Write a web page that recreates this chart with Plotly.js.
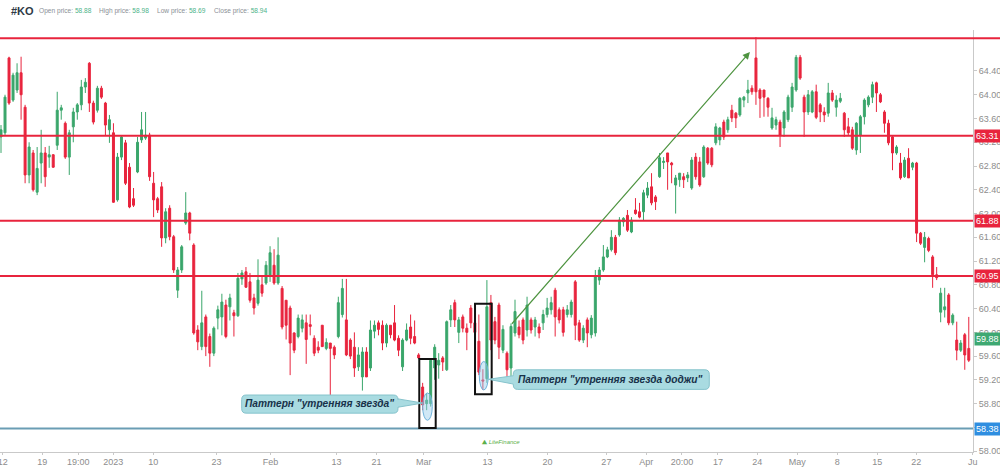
<!DOCTYPE html>
<html>
<head>
<meta charset="utf-8">
<script src="https://cdn.plot.ly/plotly-3.0.1.min.js"></script>
<style>
html,body{margin:0;padding:0;background:#fff;}
#chart{width:1000px;height:467px;}
</style>
</head>
<body>
<div id="chart"></div>
<script>
// ---- candle data ----
const open = [63.29,63.36,64.62,63.91,64.08,64.37,63.79,62.65,63.02,62.36,62.85,63.02,62.95,62.99,63.15,63.74,63.52,62.95,63.46,63.71,63.83,64.13,64.53,63.86,63.74,64.11,63.86,63.41,63.36,62.23,62.95,63.19,62.78,62.25,62.70,63.24,63.27,63.32,62.51,62.25,62.45,61.59,62.09,61.61,60.71,61.05,61.84,62.01,61.47,60.04,
59.76,60.26,59.93,59.65,60.24,60.26,60.46,60.43,60.33,60.28,60.90,61.02,60.85,60.58,60.49,60.80,60.83,60.95,61.13,60.83,60.74,60.54,60.41,59.99,59.93,60.07,60.16,60.13,59.90,59.75,60.12,59.73,59.82,59.75,59.93,60.30,60.21,59.87,59.75,59.42,59.25,59.67,59.40,60.02,60.16,60.12,59.82,60.12,60.16,59.90,
59.42,59.87,60.09,59.93,59.62,59.08,58.80,58.80,59.40,59.45,59.57,59.37,60.21,60.50,60.00,60.26,60.07,60.41,60.16,59.85,59.20,59.22,60.50,60.18,60.46,59.70,59.65,59.40,59.99,60.09,60.21,60.04,60.21,60.09,60.09,60.16,60.30,60.38,60.71,60.38,60.38,60.30,60.30,60.85,60.16,59.87,60.21,59.96,59.99,60.88,
61.05,61.27,61.39,61.60,61.64,61.86,61.97,61.69,62.06,62.03,62.03,62.31,62.45,62.28,62.62,62.86,63.02,62.85,62.48,62.57,62.62,62.60,62.43,62.95,62.87,62.62,63.10,63.10,63.19,63.24,63.54,63.41,63.74,63.69,63.66,63.91,64.03,64.11,64.62,64.08,64.08,63.94,63.44,63.49,63.54,63.44,63.58,63.79,64.08,64.63,
63.96,63.71,63.71,64.05,63.83,63.71,63.69,64.03,63.79,63.89,63.69,63.46,63.41,63.07,63.32,63.63,63.83,63.96,64.20,64.00,63.71,63.52,63.29,63.02,62.85,62.62,62.93,62.78,62.85,61.67,61.43,61.58,61.27,60.97,60.34,60.38,60.63,60.16,59.87,59.70,59.96,59.73];
const high = [63.49,64.00,64.64,64.37,64.53,64.64,63.83,63.20,63.07,63.12,63.41,63.12,63.14,63.00,64.05,63.83,63.55,63.41,63.78,63.86,64.25,64.28,64.55,63.90,64.15,64.15,63.88,63.66,63.52,63.02,63.32,63.24,62.85,62.43,63.29,63.71,63.71,63.36,62.70,62.28,62.53,62.09,62.14,61.64,61.10,61.47,62.36,62.03,61.50,60.12,
60.70,60.30,59.98,60.10,60.45,60.65,60.55,60.65,60.38,61.00,61.05,61.10,61.00,60.65,61.23,60.95,61.20,61.45,61.40,61.60,60.78,60.54,60.45,60.00,60.30,60.30,60.30,60.30,59.95,59.85,60.12,59.90,59.82,59.78,60.60,60.90,60.90,59.90,60.00,59.75,59.75,59.75,60.20,60.20,60.20,60.20,60.15,60.12,60.46,59.95,
59.90,60.15,60.30,60.20,59.65,59.15,58.98,59.55,59.80,59.65,59.60,60.20,60.46,60.55,60.26,60.30,60.15,60.46,60.20,60.30,59.38,60.88,60.63,60.26,60.50,60.12,59.68,60.15,60.55,60.20,60.25,60.60,60.25,60.26,60.15,60.38,60.58,60.60,60.75,60.42,60.43,60.46,60.55,60.88,60.21,60.12,60.25,60.29,61.05,61.10,
61.47,61.44,61.72,61.64,61.94,61.94,62.06,61.94,62.26,62.18,62.40,62.53,62.68,62.31,63.02,62.95,63.02,62.87,62.65,62.68,62.68,62.70,62.95,63.02,62.95,63.15,63.12,63.12,63.52,63.46,63.58,63.63,63.83,63.71,63.96,63.98,64.25,64.16,64.97,64.11,64.08,63.96,63.78,63.63,63.58,63.74,64.00,64.20,64.67,64.67,
64.00,64.08,64.08,64.17,63.86,63.79,64.20,64.08,63.99,64.03,63.71,63.61,63.46,63.54,63.66,63.94,63.99,64.22,64.22,64.03,63.74,63.58,63.32,63.15,63.02,62.95,63.10,62.87,62.87,61.69,61.69,61.61,61.30,61.10,60.75,60.75,60.66,60.32,60.18,59.87,59.99,60.26];
const low = [63.02,63.32,63.83,63.88,64.03,63.58,62.51,62.51,62.37,62.31,62.51,62.45,62.77,62.77,63.07,63.58,62.92,62.65,63.20,63.58,63.74,64.03,63.71,63.50,63.70,63.93,63.32,63.19,62.18,62.20,62.90,62.48,62.09,62.11,62.68,63.19,63.24,62.55,61.94,62.01,61.44,61.50,61.55,61.00,60.58,61.00,61.81,61.55,59.96,59.70,
59.70,59.60,59.42,59.60,60.05,59.95,59.90,60.20,59.93,60.26,60.80,60.75,60.50,60.30,60.45,60.60,60.80,60.85,60.80,60.80,60.05,59.88,59.28,59.65,59.90,60.00,59.47,59.95,59.60,59.65,59.80,59.70,58.92,59.55,59.90,60.25,59.60,59.55,59.25,59.35,59.02,59.25,59.35,59.90,59.95,59.70,59.75,59.90,59.85,59.60,
59.35,59.85,59.80,59.80,59.55,58.69,58.69,58.75,59.20,59.22,59.35,59.35,60.09,60.09,59.82,60.00,59.70,60.07,59.95,59.28,59.03,59.15,59.70,59.80,59.55,59.65,59.25,59.20,59.93,59.90,59.80,59.93,59.98,59.93,59.90,60.04,60.25,60.30,59.93,60.15,59.93,60.25,60.25,59.87,59.84,59.82,59.75,59.90,59.93,60.80,
61.02,61.25,61.36,61.30,61.61,61.78,61.69,61.67,61.98,61.92,61.89,62.26,62.14,62.06,62.60,62.75,62.40,62.51,62.00,62.45,62.43,62.53,62.40,62.57,62.45,62.60,62.82,62.78,63.15,63.15,63.24,63.36,63.54,63.44,63.63,63.79,63.86,64.00,63.83,63.61,63.63,63.63,63.41,63.41,63.12,63.29,63.54,63.71,64.05,64.25,
63.29,63.66,63.69,63.59,63.54,63.54,63.63,63.88,63.63,63.86,63.29,63.32,63.07,62.99,63.02,63.50,63.79,63.86,63.71,63.86,63.36,63.15,62.73,62.99,62.57,62.60,62.60,62.73,61.52,61.47,61.18,61.35,60.75,60.88,60.17,60.25,60.12,60.12,59.53,59.67,59.37,59.50];
const close = [63.41,63.96,63.86,64.33,64.37,64.00,62.65,63.12,62.40,62.76,63.02,62.62,62.99,62.78,63.74,63.78,62.95,63.36,63.71,63.83,64.13,64.21,63.86,63.54,64.11,63.96,63.49,63.58,62.19,62.95,63.29,62.51,62.11,62.14,63.20,63.41,63.32,62.62,62.23,62.06,61.59,62.03,61.61,61.05,61.05,61.44,62.01,61.67,59.99,59.84,
60.16,59.76,59.65,60.07,60.38,60.51,59.93,60.58,60.28,60.91,61.00,60.76,60.54,60.41,60.88,60.66,61.13,61.34,60.83,61.30,60.09,60.12,59.82,59.70,60.24,60.21,59.88,60.10,59.65,59.70,59.76,59.83,59.73,59.62,60.50,60.74,59.62,59.60,59.40,59.62,59.67,59.25,60.04,60.12,60.05,59.82,60.12,59.96,59.87,59.70,
59.87,60.04,59.90,59.82,59.57,58.78,58.86,59.53,59.75,59.53,59.50,60.18,60.38,60.21,60.21,60.07,60.00,60.16,60.00,59.33,59.18,60.43,59.87,59.87,59.75,60.05,59.37,60.10,60.35,59.96,59.87,60.46,60.04,60.21,59.99,60.30,60.41,60.50,60.26,60.21,60.00,60.38,60.51,60.12,59.87,60.07,59.99,60.24,60.95,61.05,
61.27,61.39,61.60,61.34,61.89,61.92,61.72,61.89,62.00,61.94,62.35,62.43,62.18,62.20,62.94,62.88,62.87,62.82,62.60,62.68,62.57,62.65,62.90,62.62,62.48,63.12,62.85,62.82,63.46,63.44,63.29,63.58,63.61,63.61,63.94,63.96,64.08,64.05,64.05,63.94,63.96,63.79,63.61,63.58,63.32,63.71,63.96,64.13,64.63,64.28,
63.71,64.00,64.05,63.62,63.71,63.66,64.03,63.91,63.91,63.94,63.41,63.36,63.10,63.52,63.63,63.91,63.96,64.17,64.03,63.88,63.52,63.19,63.02,63.12,62.60,62.90,62.60,62.85,61.67,61.50,61.60,61.38,60.97,60.92,60.66,60.43,60.16,60.29,59.70,59.82,59.62,59.53];

// x-axis labels and the candle positions they sit at
const tickPos = [1.42,11.28,20.24,28.95,38.9,54.68,68.12,84.55,94.5,106.3,122.13,137.06,151.75,161.7,170.56,179.52,189.33,199.28,209.24,219.2,228.9,243.0];
const tickText = ['12','19','19:00','2023','10','23','Feb','13','21','Mar','13','20','27','Apr','20:00','17','24','May','8','15','22','Ju'];

// y-axis ticks
const yTicks = [58.0,58.4,58.8,59.2,59.6,60.0,60.4,60.8,61.2,61.6,62.0,62.4,62.8,63.2,63.6,64.0,64.4];

// horizontal levels
const resistanceLevels = [64.95, 63.31, 61.88, 60.95];
const resistanceLabels = ['', '63.31', '61.88', '60.95'];
const supportLevel = 58.38;
const lastPrice = 59.88;

// header
const ticker = '#KO';
const headerLabels = ['Open price:', 'High price:', 'Low price:', 'Close price:'];
const headerValues = ['58.88', '58.98', '58.69', '58.94'];

// annotation texts
const callout1Text = 'Паттерн "утренняя звезда"';
const callout2Text = 'Паттерн "утренняя звезда доджи"';
const logoText = 'LiteFinance';

const idx = open.map((_, i) => i + 1);

const RED = '#e8243d';
const GREEN = '#3aa66b';
const FONT = 'Liberation Sans, Arial, sans-serif';

const trace = {
  type: 'candlestick',
  x: idx, open: open, high: high, low: low, close: close,
  increasing: {line: {color: GREEN, width: 1}, fillcolor: GREEN},
  decreasing: {line: {color: RED, width: 1}, fillcolor: RED},
  whiskerwidth: 0,
  hoverinfo: 'skip',
  showlegend: false
};

const shapes = [];
const annotations = [];

// resistance lines
resistanceLevels.forEach((lv, i) => {
  shapes.push({type: 'line', xref: 'paper', yref: 'y', x0: 0, x1: i === 0 ? 1.03 : 1,
    y0: lv, y1: lv, line: {color: RED, width: 2}, layer: 'above'});
  if (resistanceLabels[i]) {
    annotations.push({xref: 'paper', yref: 'y', x: 1, y: lv, xanchor: 'left', yanchor: 'middle',
      xshift: 1, text: resistanceLabels[i], showarrow: false, bgcolor: RED, borderpad: 1,
      font: {color: '#fff', size: 9, family: FONT}});
  }
});
// support line
shapes.push({type: 'line', xref: 'paper', yref: 'y', x0: 0, x1: 1, y0: supportLevel, y1: supportLevel,
  line: {color: '#6a9db4', width: 2}, layer: 'above'});
annotations.push({xref: 'paper', yref: 'y', x: 1, y: supportLevel, xanchor: 'left', yanchor: 'middle',
  xshift: 1, text: supportLevel.toFixed(2), showarrow: false, bgcolor: '#2f8ee0', borderpad: 1,
  font: {color: '#fff', size: 9, family: FONT}});
annotations.push({xref: 'paper', yref: 'y', x: 1, y: lastPrice, xanchor: 'left', yanchor: 'middle',
  xshift: 1, text: lastPrice.toFixed(2), showarrow: false, bgcolor: '#3ea872', borderpad: 1,
  font: {color: '#fff', size: 9, family: FONT}});

// pattern boxes
shapes.push({type: 'rect', xref: 'x', yref: 'y', x0: 105.16, x1: 109.25, y0: 58.39, y1: 59.55,
  line: {color: '#111', width: 2}, layer: 'above'});
shapes.push({type: 'rect', xref: 'x', yref: 'y', x0: 119.04, x1: 123.19, y0: 58.96, y1: 60.48,
  line: {color: '#111', width: 2}, layer: 'above'});
// ellipses
shapes.push({type: 'circle', xref: 'x', yref: 'y', x0: 106.0, x1: 108.4, y0: 58.52, y1: 58.98,
  fillcolor: 'rgba(150,205,235,0.45)', line: {color: '#6fb3dc', width: 1}, layer: 'above'});
shapes.push({type: 'circle', xref: 'x', yref: 'y', x0: 120.1, x1: 122.35, y0: 59.03, y1: 59.51,
  fillcolor: 'rgba(150,205,235,0.45)', line: {color: '#6fb3dc', width: 1}, layer: 'above'});

// callout bubble paths
function bubble(x0, x1, yb, yt, side, tipX, tipY, baseB, baseT) {
  const rx = 1.1, ry = 0.075;
  let p = `M ${x0 + rx} ${yt} L ${x1 - rx} ${yt} Q ${x1} ${yt} ${x1} ${yt - ry}`;
  if (side === 'right') p += ` L ${x1} ${baseT} L ${tipX} ${tipY} L ${x1} ${baseB}`;
  p += ` L ${x1} ${yb + ry} Q ${x1} ${yb} ${x1 - rx} ${yb} L ${x0 + rx} ${yb} Q ${x0} ${yb} ${x0} ${yb + ry}`;
  if (side === 'left') p += ` L ${x0} ${baseB} L ${tipX} ${tipY} L ${x0} ${baseT}`;
  p += ` L ${x0} ${yt - ry} Q ${x0} ${yt} ${x0 + rx} ${yt} Z`;
  return p;
}
shapes.push({type: 'path', xref: 'x', yref: 'y',
  path: bubble(60.94, 99.86, 58.64, 58.945, 'right', 106.0, 58.81, 58.74, 58.88),
  fillcolor: '#a9dbe1', line: {color: '#86c3cc', width: 1}, layer: 'above'});
shapes.push({type: 'path', xref: 'x', yref: 'y',
  path: bubble(128.57, 177.38, 59.04, 59.37, 'left', 122.35, 59.21, 59.13, 59.27),
  fillcolor: '#a9dbe1', line: {color: '#86c3cc', width: 1}, layer: 'above'});

annotations.push({xref: 'x', yref: 'y', x: 80.4, y: 58.795, text: '<b><i>' + callout1Text + '</i></b>',
  showarrow: false, font: {size: 10.2, color: '#18324a', family: FONT}});
annotations.push({xref: 'x', yref: 'y', x: 152.9, y: 59.205, text: '<b><i>' + callout2Text + '</i></b>',
  showarrow: false, font: {size: 10.2, color: '#18324a', family: FONT}});

// trend arrow
annotations.push({xref: 'x', yref: 'y', axref: 'x', ayref: 'y', x: 187.5, y: 64.72, ax: 127.9, ay: 60.12,
  text: '', showarrow: true, arrowhead: 2, arrowsize: 1.2, arrowwidth: 1.2, arrowcolor: '#4e9440'});

// logo
annotations.push({xref: 'x', yref: 'y', x: 125.3, y: 58.15, text: '<b>⛰</b> <i>' + logoText + '</i>', showarrow: false,
  font: {size: 6, color: '#5bb04a', family: FONT}});

// header
const W = 973, H = 422;
annotations.push({xref: 'paper', yref: 'paper', x: 9 / W, y: (452 - 11) / H, xanchor: 'left', yanchor: 'middle',
  text: '<b>' + ticker + '</b>', showarrow: false, font: {size: 11, color: '#2e3a46', family: FONT}});
const headerX = [37, 97, 155, 212];
headerLabels.forEach((lab, i) => {
  annotations.push({xref: 'paper', yref: 'paper', x: headerX[i] / W, y: (452 - 11) / H, xanchor: 'left', yanchor: 'middle',
    text: lab + ' <span style="color:#4db38a">' + headerValues[i] + '</span>', showarrow: false,
    font: {size: 6.6, color: '#8a8f96', family: FONT}});
});

const layout = {
  width: 1000, height: 467,
  margin: {l: 0, r: 27, t: 30, b: 15, pad: 0},
  paper_bgcolor: '#fff', plot_bgcolor: '#fff',
  showlegend: false,
  xaxis: {
    type: 'linear', range: [0.75, 243.05], rangeslider: {visible: false},
    tickmode: 'array', tickvals: tickPos, ticktext: tickText,
    showgrid: false, zeroline: false, showline: true, linecolor: '#c9c9c9', linewidth: 1,
    ticks: 'outside', ticklen: 2, tickcolor: '#c9c9c9', ticklabelstandoff: -1,
    ticklabeloverflow: 'allow',
    tickfont: {size: 9, color: '#8d8d8d', family: FONT}, fixedrange: true
  },
  yaxis: {
    side: 'right', range: [57.986, 65.09],
    tickmode: 'array', tickvals: yTicks, ticktext: yTicks.map(v => v.toFixed(2)),
    showgrid: false, zeroline: false, showline: true, linecolor: '#c9c9c9', linewidth: 1,
    ticks: 'outside', ticklen: 3, tickcolor: '#c9c9c9',
    tickfont: {size: 9, color: '#8d8d8d', family: FONT}, fixedrange: true
  },
  shapes: shapes,
  annotations: annotations
};

Plotly.newPlot('chart', [trace], layout, {staticPlot: true, displayModeBar: false});
</script>
</body>
</html>
